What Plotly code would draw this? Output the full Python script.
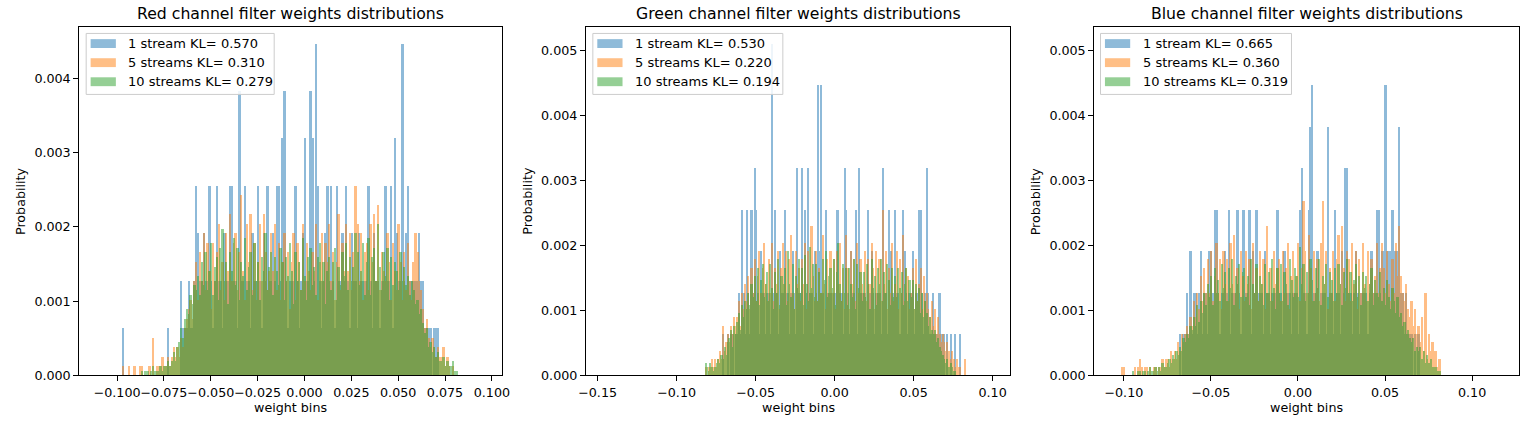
import plotly.graph_objects as go

# ---------------- data (histogram heights) ----------------
# heights are stored as counts; 1 stream unit, 5 streams = unit/5, 10 streams = unit/10
UNIT_1 = 0.000638
UNIT_5 = 0.0001276
UNIT_10 = 0.0000638
BIN_WIDTH = 0.001

titles = ["Red channel filter weights distributions",
          "Green channel filter weights distributions",
          "Blue channel filter weights distributions"]
series_names = ["1 stream", "5 streams", "10 streams"]
kl_red = [0.570, 0.310, 0.279]
kl_green = [0.530, 0.220, 0.194]
kl_blue = [0.665, 0.360, 0.319]

# first bin centres of each panel
red_first_bin = -0.0965
green_first_bin = -0.0815
blue_first_bin = -0.1005

red_1 = [1,0,0,0,0,0,0,0,0,0,
         0,0,0,0,0,0,0,0,0,0,
         0,0,0,0,1,0,0,0,0,0,
         0,2,1,1,1,2,1,1,2,4,
         3,2,2,3,2,2,4,2,1,2,
         4,2,2,1,3,2,2,4,4,2,
         2,1,6,2,2,4,2,2,1,3,
         2,2,4,2,1,3,2,4,2,2,
         3,2,4,4,2,5,6,2,1,2,
         2,2,4,2,1,2,3,5,2,2,
         6,5,2,7,4,2,1,2,3,4,
         2,4,2,1,4,2,2,3,2,4,
         2,1,3,2,2,1,3,2,2,2,
         2,4,2,1,3,2,2,1,2,2,
         4,2,2,4,1,5,3,2,2,7,
         2,3,4,2,2,2,2,2,3,2,
         2,1,1,1,1,0,1,1,1,0,
         0,0,0,0,0,0,0,0,0]
red_5 = [1,0,0,1,0,0,1,0,0,1,
         1,0,0,0,1,0,4,0,1,1,
         1,2,1,1,2,1,2,3,2,3,
         2,4,3,5,6,7,8,6,10,12,
         8,13,10,15,9,14,11,7,14,10,
         13,16,9,12,8,15,11,17,10,14,
         15,9,13,19,11,8,16,12,17,9,
         14,8,12,16,10,17,13,9,11,15,
         11,16,9,14,8,12,15,10,13,7,
         12,15,8,14,12,9,16,10,14,11,
         9,13,11,16,8,12,15,10,14,12,
         16,10,13,8,12,17,9,14,11,16,
         11,15,9,13,20,16,10,15,8,13,
         14,9,16,12,17,10,18,9,13,11,
         10,15,12,8,14,11,9,16,12,8,
         13,9,14,10,8,12,15,13,10,9,
         7,5,6,4,3,4,3,2,3,2,
         2,3,1,2,1,0,1,0,0]
red_10 = [0,0,0,0,0,0,0,0,0,0,
          1,0,1,1,0,1,2,1,1,1,
          2,1,2,2,3,2,3,5,3,6,
          7,10,8,12,14,13,17,15,19,18,
          21,17,24,19,26,18,22,28,17,23,
          25,16,27,31,20,24,15,26,22,29,
          19,27,16,24,21,29,18,23,26,17,
          28,20,24,16,25,22,30,18,23,26,
          17,25,22,19,27,24,16,25,21,28,
          22,15,26,20,24,18,29,21,16,25,
          27,19,23,17,25,28,20,24,15,22,
          25,18,24,27,16,23,19,26,21,28,
          18,25,20,23,30,26,19,22,28,17,
          24,29,17,25,27,20,32,23,18,26,
          21,27,16,25,19,24,22,18,26,20,
          23,19,21,17,20,18,15,16,13,14,
          11,9,10,6,7,5,6,4,5,3,
          3,4,2,3,2,2,3,1,1]

green_1 = [0,0,0,0,0,0,0,0,0,0,
           0,1,0,0,1,0,1,1,0,1,
           1,2,1,4,2,1,4,2,1,4,
           2,5,4,2,1,3,2,2,1,2,
           2,1,8,2,4,2,1,3,2,2,
           4,2,2,1,2,3,2,1,5,2,
           2,5,1,4,2,5,2,2,1,3,
           2,7,3,7,2,1,4,2,2,2,
           1,2,2,4,4,2,2,1,5,4,
           2,1,3,2,2,4,1,5,2,2,
           2,2,1,4,2,3,2,1,2,2,
           2,1,5,2,2,1,4,3,2,2,
           4,2,2,1,2,4,3,2,1,2,
           2,3,1,2,2,4,4,2,1,2,
           5,2,1,1,2,1,1,1,2,1,
           1,1,0,1,0,1,0,0,1,0,
           0,1,0,0,0]
green_5 = [1,0,1,1,2,1,2,1,2,3,
           2,6,3,4,5,4,6,5,7,6,
           7,9,6,10,8,11,9,12,8,13,
           10,14,9,12,15,10,13,16,11,9,
           14,10,16,9,13,11,15,8,13,16,
           11,15,9,14,17,10,8,15,11,13,
           9,14,11,16,8,15,10,18,12,9,
           15,9,13,10,17,11,8,14,10,15,
           10,14,8,15,11,16,9,13,8,17,
           13,8,15,11,14,9,16,10,14,11,
           10,15,9,14,11,16,13,8,15,10,
           14,9,20,11,15,8,13,10,16,9,
           11,15,8,14,10,17,9,13,12,8,
           10,13,8,14,9,11,13,8,12,9,
           10,8,7,9,6,8,5,7,5,4,
           5,4,3,4,3,2,3,2,1,2,
           1,1,0,0,2]
green_10 = [3,2,1,3,2,1,2,3,4,3,
            5,4,7,5,8,9,11,7,12,10,
            13,15,11,17,14,18,16,20,17,22,
            19,24,18,26,17,23,27,19,22,25,
            18,27,21,16,25,20,28,17,24,22,
            26,17,30,22,19,27,16,24,21,28,
            20,26,17,29,22,18,31,21,27,19,
            27,18,25,20,28,23,30,19,24,26,
            21,28,17,25,32,22,18,27,20,26,
            17,26,22,19,28,16,27,21,25,18,
            25,19,27,22,16,28,21,24,17,26,
            22,28,18,25,20,27,23,17,26,19,
            24,19,26,21,25,17,22,26,18,23,
            19,23,16,22,18,21,15,20,14,18,
            15,12,14,11,10,11,8,9,7,6,
            5,4,3,4,2,3,2,1,1,0,
            0,0,0,0,0]

blue_1 = [0,0,0,0,0,0,0,0,0,0,
          0,0,0,0,0,0,0,0,0,0,
          0,0,0,0,0,0,0,0,0,0,
          0,0,0,1,0,1,1,2,1,3,
          1,2,2,1,2,3,1,2,2,1,
          3,3,2,4,4,2,1,2,2,3,
          2,4,1,2,2,2,4,2,1,4,
          4,2,2,4,1,3,2,4,2,2,
          2,1,3,2,2,1,2,2,2,4,
          2,2,1,3,2,2,2,1,2,2,
          2,1,4,5,2,2,1,4,6,7,
          2,2,3,1,2,2,2,1,6,2,
          2,1,4,2,2,1,3,2,5,5,
          2,2,1,2,3,2,1,2,2,2,
          2,1,2,3,2,2,4,4,2,3,
          3,7,3,3,3,4,3,3,3,6,
          2,2,1,2,1,1,1,0,1,0,
          1,0,0,0,0,0,0,0,0,0,
          0,0,0]
blue_5 = [1,1,0,0,0,0,0,1,0,1,
          2,1,0,1,1,0,1,0,1,1,
          0,1,1,2,1,2,2,1,3,2,
          3,2,4,3,5,4,5,6,5,7,
          6,9,7,10,8,12,9,13,10,14,
          10,15,9,12,16,10,14,8,15,11,
          14,9,16,11,17,10,13,8,15,12,
          9,15,11,14,8,16,10,13,9,15,
          11,14,8,18,10,13,9,15,11,13,
          14,9,15,10,13,16,8,12,15,10,
          12,16,9,13,21,15,10,17,13,9,
          15,10,14,9,16,21,11,15,8,13,
          10,15,9,14,17,11,18,13,9,15,
          14,9,16,11,15,8,14,10,16,11,
          9,15,11,14,10,12,16,10,13,16,
          13,10,15,11,9,14,10,16,12,18,
          12,10,9,11,8,7,9,6,8,5,
          6,4,7,3,10,2,5,3,4,3,
          3,1,2]
blue_10 = [0,0,0,0,0,0,1,0,0,1,
           1,0,1,1,0,1,2,1,1,2,
           1,2,1,3,2,2,3,4,3,5,
           4,6,5,7,6,9,8,10,9,12,
           11,14,12,17,13,18,15,20,17,22,
           19,24,17,26,20,23,18,27,21,25,
           18,26,21,28,17,24,22,27,19,25,
           26,19,24,17,28,22,20,27,18,24,
           22,17,27,20,25,18,28,21,16,26,
           20,27,18,25,22,17,28,23,19,26,
           24,19,31,22,27,18,25,20,28,23,
           18,26,21,28,17,24,22,27,19,25,
           23,18,26,20,27,22,17,25,21,28,
           20,25,18,23,27,19,24,17,25,21,
           24,18,22,26,17,23,20,19,25,18,
           21,17,23,19,16,21,18,15,19,14,
           15,12,13,10,11,9,8,9,6,7,
           6,7,4,6,3,5,3,4,2,2,
           2,1,1]

x_ticks_red = [-0.100, -0.075, -0.050, -0.025, 0.000, 0.025, 0.050, 0.075, 0.100]
x_ticks_green = [-0.15, -0.10, -0.05, 0.00, 0.05, 0.10]
x_ticks_blue = [-0.10, -0.05, 0.00, 0.05, 0.10]
y_ticks_red = [0.000, 0.001, 0.002, 0.003, 0.004]
y_ticks_gb = [0.000, 0.001, 0.002, 0.003, 0.004, 0.005]

# ---------------- figure ----------------
W, H = 1535, 425          # reference picture size (layout is expressed as fractions of it)
FONT = "DejaVu Sans"
colors = ["#1f77b4", "#ff7f0e", "#2ca02c"]
units = [UNIT_1, UNIT_5, UNIT_10]

panels = [
    dict(title=titles[0], series=[red_1, red_5, red_10], first=red_first_bin, kl=kl_red,
         px=(72, 499), xr=[-0.1202, 0.1053], yr=[0, 0.00469],
         xt=x_ticks_red, xf=".3f", yt=y_ticks_red, ylab_px=12, leg_px=79, leg_w=190),
    dict(title=titles[1], series=[green_1, green_5, green_10], first=green_first_bin, kl=kl_green,
         px=(584, 1012.7), xr=[-0.1574, 0.1111], yr=[0, 0.00536],
         xt=x_ticks_green, xf=".2f", yt=y_ticks_gb, ylab_px=525, leg_px=591, leg_w=192),
    dict(title=titles[2], series=[blue_1, blue_5, blue_10], first=blue_first_bin, kl=kl_blue,
         px=(1097.7, 1526.7), xr=[-0.117, 0.1268], yr=[0, 0.00536],
         xt=x_ticks_blue, xf=".2f", yt=y_ticks_gb, ylab_px=1038, leg_px=1104, leg_w=193),
]

TOP_PX, BOT_PX = 27.3, 381.7
ydom = [1 - BOT_PX / H, 1 - TOP_PX / H]
TICK_SIZE, TITLE_SIZE, LEG_SIZE = 12.7, 15.7, 13.0

fig = go.Figure()
annotations = []
shapes = []

def py(p):
    return 1 - p / H

for k, p in enumerate(panels):
    sfx = "" if k == 0 else str(k + 1)
    for s, counts in enumerate(p["series"]):
        fig.add_trace(go.Bar(
            x0=p["first"], dx=BIN_WIDTH,
            y=[c * units[s] for c in counts],
            marker=dict(color=colors[s], line=dict(width=0)),
            opacity=0.5, name=series_names[s], showlegend=False,
            xaxis="x" + sfx, yaxis="y" + sfx,
        ))
    axis_common = dict(showline=True, mirror=True, linecolor="black", linewidth=1,
                       ticks="outside", ticklen=5, tickwidth=1, tickcolor="black",
                       showgrid=False, zeroline=False, tickangle=0,
                       tickfont=dict(family=FONT, size=TICK_SIZE, color="black"))
    fig.layout["xaxis" + sfx] = dict(domain=[p["px"][0] / W, p["px"][1] / W], range=p["xr"],
                                     tickvals=p["xt"], tickformat=p["xf"],
                                     anchor="y" + sfx, **axis_common)
    fig.layout["yaxis" + sfx] = dict(domain=ydom, range=p["yr"], tickvals=p["yt"],
                                     tickformat=".3f", anchor="x" + sfx, **axis_common)
    cx = (p["px"][0] + p["px"][1]) / 2 / W
    annotations.append(dict(text=p["title"], x=cx, y=py(13.3), xref="paper", yref="paper",
                            showarrow=False, xanchor="center", yanchor="middle",
                            font=dict(family=FONT, size=TITLE_SIZE, color="black")))
    annotations.append(dict(text="weight bins", x=cx, y=py(414), xref="paper", yref="paper",
                            showarrow=False, xanchor="center", yanchor="middle",
                            font=dict(family=FONT, size=TICK_SIZE, color="black")))
    annotations.append(dict(text="Probability", x=p["ylab_px"] / W, y=(ydom[0] + ydom[1]) / 2,
                            xref="paper", yref="paper", textangle=-90,
                            showarrow=False, xanchor="center", yanchor="middle",
                            font=dict(family=FONT, size=TICK_SIZE, color="black")))
    # legend box
    lx, ly, lw, lh = p["leg_px"], 34, p["leg_w"], 62
    shapes.append(dict(type="rect", xref="paper", yref="paper",
                       x0=lx / W, x1=(lx + lw) / W, y0=py(ly + lh), y1=py(ly),
                       line=dict(color="#cccccc", width=1), fillcolor="rgba(255,255,255,0.85)",
                       layer="above"))
    for s in range(3):
        cy = ly + 10.3 + s * 19.4
        shapes.append(dict(type="rect", xref="paper", yref="paper",
                           x0=(lx + 4.5) / W, x1=(lx + 30) / W, y0=py(cy + 4.5), y1=py(cy - 4.5),
                           line=dict(width=0), fillcolor=colors[s], opacity=0.5, layer="above"))
        annotations.append(dict(text=f"{series_names[s]} KL= {p['kl'][s]:.3f}",
                                x=(lx + 40.5) / W, y=py(cy), xref="paper", yref="paper",
                                showarrow=False, xanchor="left", yanchor="middle",
                                font=dict(family=FONT, size=LEG_SIZE, color="black")))

fig.update_layout(autosize=True, margin=dict(l=0, r=0, t=0, b=0),
                  paper_bgcolor="white", plot_bgcolor="white",
                  barmode="overlay", bargap=0, showlegend=False,
                  annotations=annotations, shapes=shapes,
                  font=dict(family=FONT, color="black"))

page_js = (
    "var s=document.createElement('style');"
    "s.textContent='html,body{margin:0!important;padding:0!important;overflow:hidden!important;"
    "width:100vw;height:100vh;}';"
    "document.head.appendChild(s);"
    "var gd=document.getElementById('{plot_id}');"
    "gd.style.width='100vw';gd.style.height='100vh';"
    "Plotly.Plots.resize(gd);"
)
fig.write_html("out.html", default_width="100vw", default_height="100vh",
               config={"responsive": True, "displayModeBar": False},
               post_script=page_js)
